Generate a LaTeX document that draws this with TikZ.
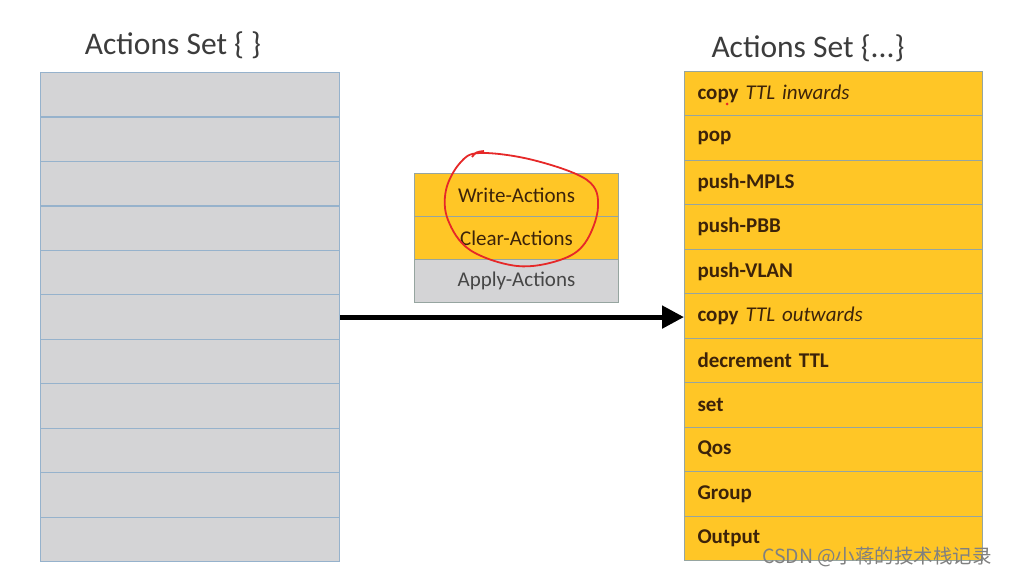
\documentclass[tikz,border=0pt]{standalone}
\usepackage{fontspec}
\setmainfont{Carlito}
\newfontfamily\cjk{Noto Sans CJK SC}
\usetikzlibrary{arrows.meta}
\definecolor{rowgray}{RGB}{212,212,214}
\definecolor{bluegray}{RGB}{150,178,204}
\definecolor{rowyel}{RGB}{255,198,38}
\definecolor{yelborder}{RGB}{150,165,160}
\definecolor{labeltext}{RGB}{60,35,10}
\definecolor{titletext}{RGB}{60,60,60}
\definecolor{midgray}{RGB}{70,70,70}
\definecolor{pen}{RGB}{230,40,40}
\begin{document}
\begin{tikzpicture}[x=1pt,y=-1pt,
  grayrow/.style={draw=bluegray, line width=1.2pt, fill=rowgray, minimum width=299pt, minimum height=44.45pt, inner sep=0pt, anchor=north west},
  yelrow/.style={draw=yelborder, line width=1pt, fill=rowyel, minimum height=44.45pt, anchor=north west, text width=272pt, inner xsep=13pt, inner ysep=0pt, align=left, font=\fontsize{21}{23}\selectfont\bfseries, text=labeltext},
  midrow/.style={draw=yelborder, line width=1pt, minimum width=204pt, minimum height=43pt, inner sep=0pt, anchor=north west, font=\fontsize{21}{23}\selectfont},
  title/.style={font=\fontsize{31.5}{35}\selectfont, text=titletext},
  flow/.style={line width=5pt, -{Triangle[length=22pt,width=22pt]}}]
\useasboundingbox[fill=white] (0,0) rectangle (1009,577);
% titles
\node[title] (tl) at (173,45) {Actions Set \{ \}};
\node[title] (tr) at (808,48) {Actions Set \{...\}};
% left column
\foreach \i in {0,...,10} \node[grayrow] (L\i) at (40,{72+44.45*\i}) {};
% right column
\foreach \i/\t in {0/{copy \textit{\mdseries TTL inwards}},1/pop,2/push-MPLS,3/push-PBB,4/push-VLAN,5/{copy \textit{\mdseries TTL outwards}},6/decrement TTL,7/set,8/Qos,9/Group,10/Output}
  \node[yelrow] (R\i) at (684,{71+44.45*\i}) {\t};
\fill[pen] (727,104) circle (1.5);
% middle box
\node[midrow, fill=rowyel, text=labeltext] (W) at (414,173) {Write-Actions};
\node[midrow, fill=rowyel, text=labeltext] (C) at (414,216) {Clear-Actions};
\node[midrow, fill=rowgray, text=midgray] (A) at (414,259) {Apply-Actions};
% arrow
\draw[flow] (L5.east) -- (L5.east -| R5.west);
% red freehand circle
\draw[pen, line width=1.8pt] plot[smooth cycle, tension=0.6] coordinates {(480,153) (533,160) (587,180) (598,207) (585,243) (560,260) (517,266) (470,250) (448,220) (446,190) (460,163)};
\draw[pen, line width=1.8pt] (472,157) .. controls (476,152) .. (484,151);
% watermark
\node[font=\cjk\fontsize{19.5}{21}\selectfont, text=gray] (wm) at (877,557) {CSDN @小蒋的技术栈记录};
\end{tikzpicture}
\end{document}
